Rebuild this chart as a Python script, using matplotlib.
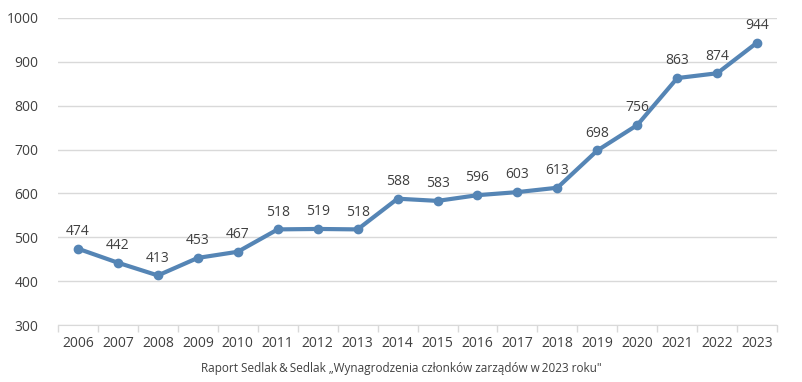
import matplotlib.pyplot as plt
import numpy as np

years = ['2006', '2007', '2008', '2009', '2010', '2011', '2012', '2013', '2014',
         '2015', '2016', '2017', '2018', '2019', '2020', '2021', '2022', '2023']
values = [474, 442, 413, 453, 467, 518, 519, 518, 588,
          583, 596, 603, 613, 698, 756, 863, 874, 944]
source = 'Raport Sedlak\u2009&\u2009Sedlak \u201eWynagrodzenia członków zarządów w\u20092023 roku"'

plt.rcParams['font.family'] = ['Open Sans', 'DejaVu Sans']
line_col = '#5585B5'
txt_col = '#404040'
grid_col = '#D9D9D9'

fig = plt.figure(figsize=(8.02, 3.82), dpi=100)
ax = fig.add_axes([0.0723, 0.1492, 0.8967, 0.8037])

x = np.arange(len(years))
ax.plot(x, values, color=line_col, lw=3, marker='o', ms=6, zorder=3)
for xi, v in zip(x, values):
    ax.annotate(str(v), (xi, v), xytext=(0, 7), textcoords='offset points',
                ha='center', va='bottom', fontsize=10, color=txt_col)

ax.set_xlim(-0.5, len(years) - 0.5)
ax.set_ylim(300, 1000)
ax.set_yticks(range(300, 1001, 100))
ax.set_xticks(x)
ax.set_xticklabels(years)
ax.set_xticks(np.arange(-0.5, len(years), 1), minor=True)
ax.tick_params(axis='x', which='major', length=0, pad=8, labelsize=10, labelcolor=txt_col)
ax.tick_params(axis='x', which='minor', length=5, color=grid_col, width=1)
ax.tick_params(axis='y', length=0, pad=14, labelsize=10, labelcolor=txt_col)
ax.grid(axis='y', color=grid_col, lw=1)
ax.set_axisbelow(True)
for s in ['top', 'right', 'left']:
    ax.spines[s].set_visible(False)
ax.spines['bottom'].set_color(grid_col)

fig.text(0.5, 0.035, source, ha='center', va='center', fontsize=8.5, color=txt_col)

fig.savefig('out.png', dpi=100)
